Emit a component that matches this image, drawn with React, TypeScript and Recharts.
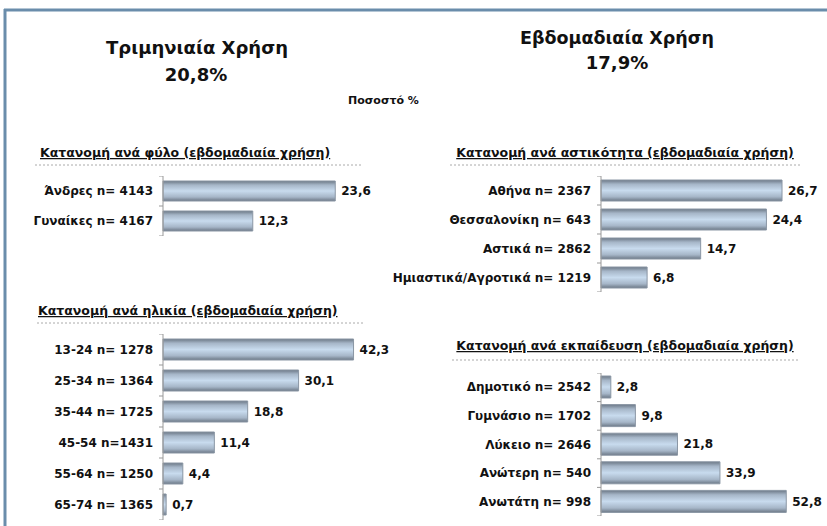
import { BarChart, Bar, XAxis, YAxis, LabelList } from "recharts";

const genderLabels = ["Άνδρες n= 4143", "Γυναίκες n= 4167"];
const genderValues = [23.6, 12.3];

const regionLabels = ["Αθήνα n= 2367", "Θεσσαλονίκη n= 643", "Αστικά n= 2862", "Ημιαστικά/Αγροτικά n= 1219"];
const regionValues = [26.7, 24.4, 14.7, 6.8];

const ageLabels = ["13-24 n= 1278", "25-34 n= 1364", "35-44 n= 1725", "45-54 n=1431", "55-64 n= 1250", "65-74 n= 1365"];
const ageValues = [42.3, 30.1, 18.8, 11.4, 4.4, 0.7];

const eduLabels = ["Δημοτικό n= 2542", "Γυμνάσιο n= 1702", "Λύκειο n= 2646", "Ανώτερη n= 540", "Ανωτάτη n= 998"];
const eduValues = [2.8, 9.8, 21.8, 33.9, 52.8];

const FONT = "'DejaVu Sans', sans-serif";
const INK = "#111";

const fmt = (v: any) => String(v).replace(".", ",");

function Panel({ labels, values, left, top, labelW, height, max, barSize }: any) {
  const data = labels.map((l: string, i: number) => ({ label: l, value: values[i] }));
  const band = height / labels.length;
  const plotW = 200;

  const renderTick = (p: any) => {
    const { y, payload, index } = p;
    return (
      <g>
        <text x={labelW - 10} y={y} textAnchor="end" dominantBaseline="central"
          fontFamily={FONT} fontSize={12} fontWeight="bold" fill={INK}>
          {payload.value}
        </text>
        <line x1={labelW - 4} x2={labelW} y1={y - band / 2} y2={y - band / 2} stroke="#999" />
        {index === labels.length - 1 && (
          <line x1={labelW - 4} x2={labelW} y1={y + band / 2} y2={y + band / 2} stroke="#999" />
        )}
      </g>
    );
  };

  return (
    <div style={{ position: "absolute", left, top }}>
      <BarChart width={labelW + plotW + 50} height={height} data={data} layout="vertical"
        margin={{ top: 0, right: 50, bottom: 0, left: 0 }} barSize={barSize}>
        <XAxis type="number" domain={[0, max]} hide />
        <YAxis type="category" dataKey="label" width={labelW} interval={0}
          axisLine={{ stroke: "#999" }} tickLine={false} tick={renderTick} />
        <Bar dataKey="value" fill="url(#barGrad)" stroke="#8a96a4" strokeWidth={1} isAnimationActive={false}>
          <LabelList dataKey="value" position="right" offset={6} formatter={fmt}
            style={{ fontFamily: FONT, fontSize: 12, fontWeight: "bold", fill: INK }} />
        </Bar>
      </BarChart>
    </div>
  );
}

export default function App() {
  return (
    <div style={{ position: "absolute", left: 0, top: 0, width: 827, height: 526, background: "#fff", overflow: "hidden" }}>
      <svg width={827} height={526} style={{ position: "absolute", left: 0, top: 0 }}>
        <defs>
          <linearGradient id="barGrad" x1="0" y1="0" x2="0" y2="1">
            <stop offset="0" stopColor="#6c7886" />
            <stop offset="0.2" stopColor="#a6b6c8" />
            <stop offset="0.5" stopColor="#c8dbee" />
            <stop offset="0.8" stopColor="#a6b6c8" />
            <stop offset="1" stopColor="#6c7886" />
          </linearGradient>
        </defs>
        <line x1={4} x2={827} y1={10} y2={10} stroke="#6a8dab" strokeWidth={3} />
        <line x1={5} x2={5} y1={9} y2={526} stroke="#6a8dab" strokeWidth={3} />

        <g fontFamily={FONT} fill={INK}>
          <text x={197} y={54} textAnchor="middle" fontSize={18} fontWeight="bold">Τριμηνιαία Χρήση</text>
          <text x={196} y={81} textAnchor="middle" fontSize={18} fontWeight="bold">20,8%</text>
          <text x={348} y={104} fontSize={11} fontWeight="bold">Ποσοστό %</text>
          <text x={617} y={44} textAnchor="middle" fontSize={17.5} fontWeight="bold">Εβδομαδιαία Χρήση</text>
          <text x={617} y={69} textAnchor="middle" fontSize={18} fontWeight="bold">17,9%</text>

          <text x={40} y={157} fontSize={12.5} fontWeight="bold" textDecoration="underline">Κατανομή ανά φύλο (εβδομαδιαία χρήση)</text>
          <text x={625} y={157} textAnchor="middle" fontSize={12.5} fontWeight="bold" textDecoration="underline">Κατανομή ανά αστικότητα (εβδομαδιαία χρήση)</text>
          <text x={38} y={315} fontSize={12.5} fontWeight="bold" textDecoration="underline">Κατανομή ανά ηλικία (εβδομαδιαία χρήση)</text>
          <text x={625} y={350} textAnchor="middle" fontSize={12.5} fontWeight="bold" textDecoration="underline">Κατανομή ανά εκπαίδευση (εβδομαδιαία χρήση)</text>
        </g>
        <g stroke="#aaa" strokeDasharray="2 2">
          <line x1={35} x2={363} y1={165} y2={165} />
          <line x1={450} x2={800} y1={165} y2={165} />
          <line x1={37} x2={363} y1={323} y2={323} />
          <line x1={452} x2={800} y1={360} y2={360} />
        </g>
      </svg>

      <Panel labels={genderLabels} values={genderValues} left={10} top={176} labelW={153} height={60} max={27.4} barSize={20} />
      <Panel labels={ageLabels} values={ageValues} left={10} top={334} labelW={153} height={186} max={44.4} barSize={21} />
      <Panel labels={regionLabels} values={regionValues} left={375} top={176} labelW={226} height={116} max={29.5} barSize={21} />
      <Panel labels={eduLabels} values={eduValues} left={375} top={373} labelW={226} height={143} max={57} barSize={22} />
    </div>
  );
}
